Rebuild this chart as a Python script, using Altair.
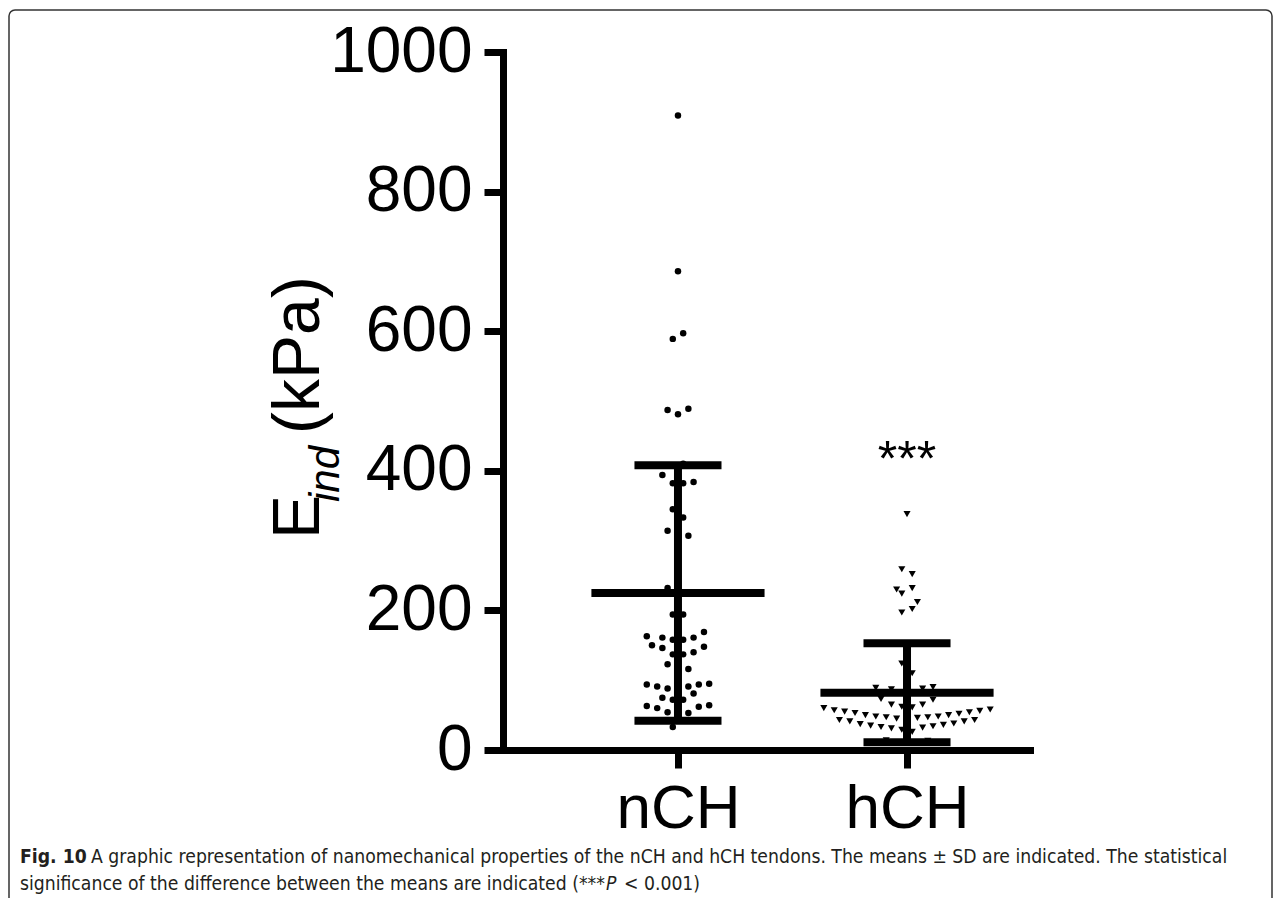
import altair as alt
import pandas as pd

# ---------------- data ----------------
groups = ["nCH", "hCH"]

nch_values = [909, 686, 597, 589, 487, 481, 489, 410, 394, 382, 382, 384, 345, 333, 314, 307, 232, 194, 194,
              163, 161, 158, 158, 161, 169, 150, 146, 137, 137, 140, 148, 123, 116,
              94, 91, 88, 91, 94, 95, 75, 72, 72, 81, 63, 60, 54, 53, 62, 64, 33]
nch_slots = [0, 0, 1, -1, -2, 0, 2, 1, -3, -1, 1, 3, -1, 1, -2, 2, -2, -1, 1,
             -6, -3, -1, 1, 3, 5, -5, -3, -1, 1, 3, 5, -2, 2,
             -6, -4, -2, 2, 4, 6, -3, -1, 1, 3, -6, -4, -2, 2, 4, 6, -1]

hch_values = [338, 259, 252, 230, 224, 232, 212, 202, 197, 124, 110,
              89, 87, 88, 90, 73, 65, 62, 61, 65, 72,
              60, 57, 55, 53, 50, 48, 47, 45, 46, 47, 48, 50, 52, 54, 56, 58,
              43, 41, 37, 35, 33, 31, 29, 26, 32, 34, 36, 38, 41, 43, 14, 13]
hch_slots = [0, -1, 1, -2, -1, 1, 2, 1, -1, -1, 1,
             -6, -3, 3, 5, -5, -3, -1, 1, 3, 5,
             -16, -14, -12, -10, -8, -6, -4, -2, 2, 4, 6, 8, 10, 12, 14, 16,
             -13, -11, -9, -7, -5, -3, -1, 1, 3, 5, 7, 9, 11, 13, -4, 4]

means = [225, 82]
sds = [183, 71]

y_ticks = [0, 200, 400, 600, 800, 1000]
significance = "***"
sig_level = 393

caption_bold = "Fig. 10"
caption_line1 = ("A graphic representation of nanomechanical properties of the nCH and hCH tendons. "
                 "The means \u00b1 SD are indicated. The statistical")
caption_line2a = "significance of the difference between the means are indicated (***"
caption_line2b = "P"
caption_line2c = "< 0.001)"

# ---------------- tables ----------------
SLOT = 0.0227      # horizontal spacing of the dot columns (in category units)
MEAN_HALF = 0.378
CAP_HALF = 0.19

pts = pd.DataFrame({
    "group": ["nCH"] * len(nch_values) + ["hCH"] * len(hch_values),
    "gi": [0] * len(nch_values) + [1] * len(hch_values),
    "value": nch_values + hch_values,
    "slot": nch_slots + hch_slots,
})
pts["xpos"] = pts["gi"] + pts["slot"] * SLOT

summ = pd.DataFrame({"group": groups, "gi": [0, 1], "mean": means, "sd": sds})
summ["lo"] = summ["mean"] - summ["sd"]
summ["hi"] = summ["mean"] + summ["sd"]
summ["ml"] = summ["gi"] - MEAN_HALF
summ["mr"] = summ["gi"] + MEAN_HALF
summ["cl"] = summ["gi"] - CAP_HALF
summ["cr"] = summ["gi"] + CAP_HALF

FONT = "Liberation Sans"
W, H = 527, 698

xscale = alt.Scale(domain=[-0.764, 1.537], nice=False, zero=False)
yscale = alt.Scale(domain=[0, 1000], nice=False, zero=True)

xaxis = alt.Axis(values=[0, 1], labelExpr="datum.value == 0 ? 'nCH' : 'hCH'",
                 tickSize=18, labelPadding=10, labelFontSize=62, title=None)
yaxis = alt.Axis(values=y_ticks, tickSize=19, labelPadding=12, labelFontSize=64,
                 title=None, format="d")


def X(field):
    return alt.X(field, scale=xscale, axis=xaxis, title=None)


def Y(field):
    return alt.Y(field, scale=yscale, axis=yaxis, title=None)


base_summ = alt.Chart(summ)

vbar = base_summ.mark_rule(color="black", strokeWidth=8).encode(
    x=X("gi:Q"), y=Y("lo:Q"), y2="hi:Q",
)
mean_line = base_summ.mark_rule(color="black", strokeWidth=8).encode(
    x=X("ml:Q"), x2="mr:Q", y=Y("mean:Q"),
)
cap_hi = base_summ.mark_rule(color="black", strokeWidth=8).encode(
    x=X("cl:Q"), x2="cr:Q", y=Y("hi:Q"),
)
cap_lo = base_summ.mark_rule(color="black", strokeWidth=8).encode(
    x=X("cl:Q"), x2="cr:Q", y=Y("lo:Q"),
)

dots = alt.Chart(pts).transform_filter(alt.datum.group == "nCH").mark_point(
    shape="circle", filled=True, color="black", size=42, opacity=1
).encode(x=X("xpos:Q"), y=Y("value:Q"))

tris = alt.Chart(pts).transform_filter(alt.datum.group == "hCH").mark_point(
    shape="triangle-down", filled=True, color="black", size=50, opacity=1
).encode(x=X("xpos:Q"), y=Y("value:Q"))

stars = alt.Chart(pd.DataFrame({"gi": [1], "v": [sig_level], "t": [significance]})).mark_text(
    font=FONT, fontSize=50, color="black", align="center", baseline="alphabetic"
).encode(x=X("gi:Q"), y=Y("v:Q"), text="t:N")


def label(txt, x, y, size, style="normal", weight="normal", angle=0, family=FONT, color="black"):
    kw = dict(font=family, fontSize=size, fontStyle=style, fontWeight=weight,
              color=color, align="left", baseline="alphabetic")
    if angle:
        kw["angle"] = angle
    return alt.Chart(pd.DataFrame({"t": [txt]})).mark_text(**kw).encode(
        x=alt.value(x), y=alt.value(y), text="t:N")


# y-axis title E_ind(kPa) built from pieces
t_E = label("E", -184, 487, 66, angle=270)
t_ind = label("ind", -164, 450, 42, style="italic", angle=270)
t_kpa = label("(kPa)", -184, 382, 66, angle=270)

CAPF = "DejaVu Sans Condensed, Noto Sans, sans-serif"
CAPC = "#231f20"
CS = 19.2
c1 = label(caption_bold, -483, 811, CS, weight="bold", family=CAPF, color=CAPC)
c2 = label(caption_line1, -412, 811, CS, family=CAPF, color=CAPC)
c3 = label(caption_line2a, -483, 838, CS, family=CAPF, color=CAPC)
c4 = label(caption_line2b, 103, 838, CS, style="italic", family=CAPF, color=CAPC)
c5 = label(caption_line2c, 121, 838, CS, family=CAPF, color=CAPC)

border = alt.Chart(pd.DataFrame({"a": [0]})).mark_rect(
    fill=None, stroke="#333333", strokeWidth=1.5, cornerRadius=6
).encode(x=alt.value(-494), x2=alt.value(769), y=alt.value(-42), y2=alt.value(900))

chart = alt.layer(
    vbar, mean_line, cap_hi, cap_lo, dots, tris, stars,
    t_E, t_ind, t_kpa, c1, c2, c3, c4, c5, border
).properties(
    width=W, height=H,
    autosize="none",
    padding={"left": 495, "top": 44, "right": 243, "bottom": 148},
    background="white",
).configure_view(stroke=None).configure_axis(
    domainColor="black", domainWidth=7, tickColor="black", tickWidth=7,
    labelFont=FONT, labelColor="black", grid=False, domainCap="square"
)

chart.save("out.html", embed_options={"renderer": "svg", "actions": False})
